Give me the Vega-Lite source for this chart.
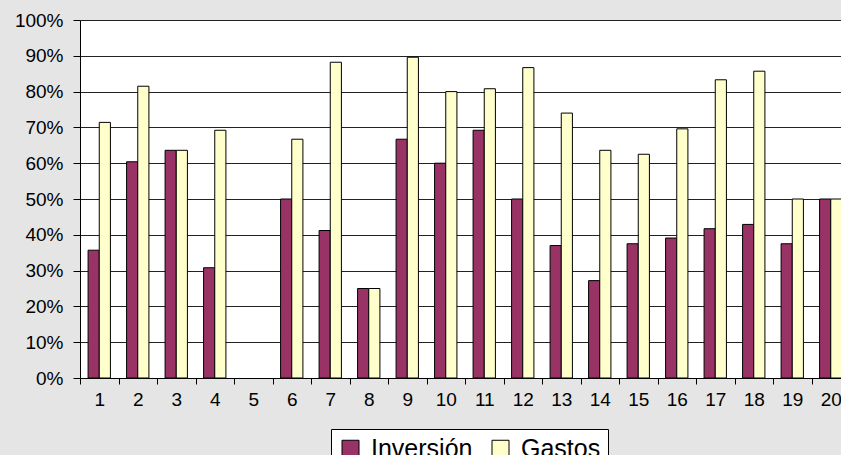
{
  "$schema": "https://vega.github.io/schema/vega-lite/v6.json",
  "width": 761,
  "height": 358,
  "autosize": {"type": "none"},
  "padding": {"left": 80, "top": 20, "right": 0, "bottom": 77},
  "background": "#e5e5e5",
  "data": {
    "values": [
      {"n": 1, "serie": "Inversión", "v": 0.357}, {"n": 1, "serie": "Gastos", "v": 0.714},
      {"n": 2, "serie": "Inversión", "v": 0.604}, {"n": 2, "serie": "Gastos", "v": 0.815},
      {"n": 3, "serie": "Inversión", "v": 0.636}, {"n": 3, "serie": "Gastos", "v": 0.636},
      {"n": 4, "serie": "Inversión", "v": 0.308}, {"n": 4, "serie": "Gastos", "v": 0.692},
      {"n": 6, "serie": "Inversión", "v": 0.5}, {"n": 6, "serie": "Gastos", "v": 0.667},
      {"n": 7, "serie": "Inversión", "v": 0.412}, {"n": 7, "serie": "Gastos", "v": 0.882},
      {"n": 8, "serie": "Inversión", "v": 0.25}, {"n": 8, "serie": "Gastos", "v": 0.25},
      {"n": 9, "serie": "Inversión", "v": 0.667}, {"n": 9, "serie": "Gastos", "v": 0.896},
      {"n": 10, "serie": "Inversión", "v": 0.6}, {"n": 10, "serie": "Gastos", "v": 0.8},
      {"n": 11, "serie": "Inversión", "v": 0.692}, {"n": 11, "serie": "Gastos", "v": 0.808},
      {"n": 12, "serie": "Inversión", "v": 0.5}, {"n": 12, "serie": "Gastos", "v": 0.867},
      {"n": 13, "serie": "Inversión", "v": 0.37}, {"n": 13, "serie": "Gastos", "v": 0.74},
      {"n": 14, "serie": "Inversión", "v": 0.272}, {"n": 14, "serie": "Gastos", "v": 0.636},
      {"n": 15, "serie": "Inversión", "v": 0.375}, {"n": 15, "serie": "Gastos", "v": 0.625},
      {"n": 16, "serie": "Inversión", "v": 0.391}, {"n": 16, "serie": "Gastos", "v": 0.696},
      {"n": 17, "serie": "Inversión", "v": 0.417}, {"n": 17, "serie": "Gastos", "v": 0.833},
      {"n": 18, "serie": "Inversión", "v": 0.429}, {"n": 18, "serie": "Gastos", "v": 0.857},
      {"n": 19, "serie": "Inversión", "v": 0.375}, {"n": 19, "serie": "Gastos", "v": 0.5},
      {"n": 20, "serie": "Inversión", "v": 0.5}, {"n": 20, "serie": "Gastos", "v": 0.5}
    ]
  },
  "mark": {"type": "bar", "stroke": "black", "strokeWidth": 1},
  "encoding": {
    "x": {
      "field": "n",
      "type": "ordinal",
      "scale": {"domain": [1,2,3,4,5,6,7,8,9,10,11,12,13,14,15,16,17,18,19,20], "range": [0, 770], "paddingInner": 0, "paddingOuter": 0},
      "axis": {
        "title": null,
        "labelAngle": 0,
        "tickBand": "extent",
        "tickSize": 6,
        "tickColor": "black",
        "domainColor": "black",
        "labelPadding": 6,
        "labelFont": "Liberation Sans",
        "labelFontSize": 19,
        "labelColor": "black",
        "grid": false
      }
    },
    "xOffset": {
      "field": "serie",
      "type": "nominal",
      "scale": {"domain": ["Inversión", "Gastos"], "paddingInner": 0, "paddingOuter": 0.725}
    },
    "y": {
      "field": "v",
      "type": "quantitative",
      "scale": {"domain": [0, 1], "nice": false},
      "axis": {
        "title": null,
        "format": "%",
        "values": [0, 0.1, 0.2, 0.3, 0.4, 0.5, 0.6, 0.7, 0.8, 0.9, 1],
        "tickSize": 7,
        "tickColor": "black",
        "domainColor": "black",
        "labelPadding": 10,
        "labelFont": "Liberation Sans",
        "labelFontSize": 19,
        "labelColor": "black",
        "grid": true,
        "gridColor": "#222222",
        "gridOpacity": 1
      }
    },
    "fill": {
      "field": "serie",
      "type": "nominal",
      "scale": {"domain": ["Inversión", "Gastos"], "range": ["#993366", "#ffffcc"]},
      "legend": {
        "title": null,
        "orient": "none",
        "legendX": 251,
        "legendY": 409,
        "direction": "horizontal",
        "padding": 7,
        "strokeColor": "black",
        "fillColor": "white",
        "symbolType": "square",
        "symbolSize": 289,
        "symbolStrokeColor": "black",
        "symbolStrokeWidth": 1,
        "symbolOpacity": 1,
        "labelFont": "Liberation Sans",
        "labelFontSize": 25,
        "labelColor": "black",
        "labelOffset": 8,
        "columnPadding": 15
      }
    }
  },
  "config": {"view": {"stroke": null, "fill": "white"}}
}
